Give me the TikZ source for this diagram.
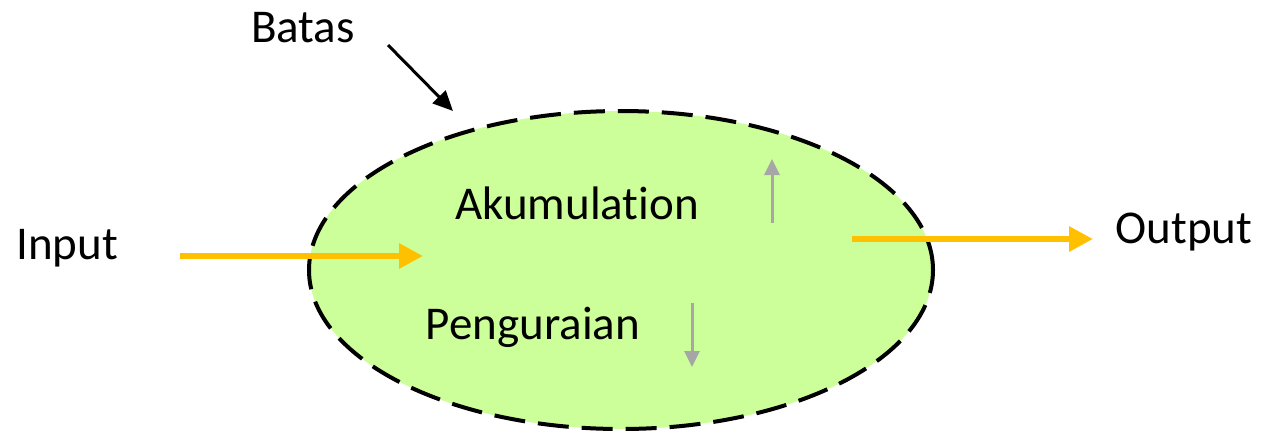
\documentclass[tikz,border=0pt]{standalone}
\usepackage{fontspec}
\setmainfont{Carlito}[Ligatures=NoCommon]
\usetikzlibrary{arrows.meta,shapes.geometric}
\definecolor{flowor}{HTML}{FFC000}
\definecolor{cellgreen}{HTML}{CCFF99}
\definecolor{arrgray}{HTML}{A6A6A6}
\tikzset{
  lbl/.style={inner sep=0pt, font=\fontsize{47}{56}\selectfont},
  flow/.style={draw=flowor, line width=6pt, -{Triangle[length=24pt,width=24pt]}},
  trend/.style={draw=arrgray, line width=3pt, -{Triangle[length=16pt,width=15pt]}},
  pointer/.style={draw=black, line width=3pt, -{Triangle[length=20pt,width=18pt]}},
  boundary/.style={ellipse, draw=black, fill=cellgreen, line width=4pt,
    dash pattern=on 31pt off 13pt, inner sep=0pt}
}
\begin{document}
\begin{tikzpicture}[x=1pt,y=-1pt]
\useasboundingbox (0,0) rectangle (1263,432);
\node[boundary, minimum width=624pt, minimum height=318pt] (sys) at (621,270) {};
\node[lbl] (batas) at (303,28) {Batas};
\node[lbl] (input) at (67,248) {Input};
\node[lbl] (output) at (1184,232) {Output};
\node[lbl] (akum) at (577,203) {Akumulation};
\node[lbl] (peng) at (533,327) {Penguraian};
\coordinate (bs) at (388,45);
\coordinate (be) at (453,111);
\coordinate (is) at (180,256);
\coordinate (ie) at (423,256);
\coordinate (os) at (852,239);
\coordinate (oe) at (1093,239);
\coordinate (us) at (772,223);
\coordinate (ue) at (772,159);
\coordinate (ds) at (692,303);
\coordinate (de) at (692,367);
\draw[pointer] (bs) -- (be);
\draw[flow] (is) -- (ie);
\draw[flow] (os) -- (oe);
\draw[trend] (us) -- (ue);
\draw[trend] (ds) -- (de);
\end{tikzpicture}
\end{document}
